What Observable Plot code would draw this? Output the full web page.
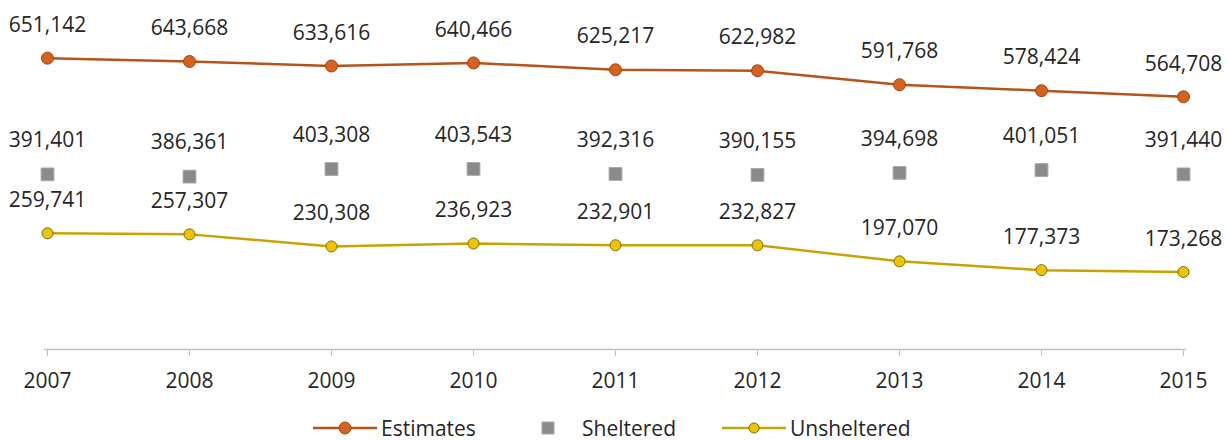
<!DOCTYPE html>
<html>
<head>
<meta charset="utf-8">
<script src="https://cdn.jsdelivr.net/npm/d3@7"></script>
<script src="https://cdn.jsdelivr.net/npm/@observablehq/plot@0.6"></script>
<style>
  html, body { margin: 0; padding: 0; background: #fff; }
  #wrap { position: relative; width: 1228px; height: 440px; font-family: "Open Sans", sans-serif; color: #262626; }
  #legend { position: absolute; top: 417px; left: 0; width: 1228px; height: 22px; font-size: 21px; line-height: 22px; }
  .item { position: absolute; top: 0; height: 22px; display: flex; align-items: center; white-space: nowrap; }
  .item svg { display: block; margin-right: 4px; }
</style>
</head>
<body>
<div id="wrap">
  <div id="chart"></div>
  <div id="legend"></div>
</div>
<script>
const years = ["2007","2008","2009","2010","2011","2012","2013","2014","2015"];
const estimates = [651142, 643668, 633616, 640466, 625217, 622982, 591768, 578424, 564708];
const sheltered = [391401, 386361, 403308, 403543, 392316, 390155, 394698, 401051, 391440];
const unsheltered = [259741, 257307, 230308, 236923, 232901, 232827, 197070, 177373, 173268];
const seriesNames = ["Estimates", "Sheltered", "Unsheltered"];

const colors = {
  estLine: "#b5531b", estFill: "#d4631f", estStroke: "#a0440f",
  shFill: "#8a8a8a", shStroke: "#a6a6a6",
  unLine: "#c9a200", unFill: "#ecc400", unStroke: "#7d6e0c"
};

const est = years.map((y, i) => ({year: y, value: estimates[i]}));
const sh = years.map((y, i) => ({year: y, value: sheltered[i]}));
const un = years.map((y, i) => ({year: y, value: unsheltered[i]}));
const fmt = d3.format(",");

const chart = Plot.plot({
  width: 1228,
  height: 405,
  marginLeft: 44,
  marginRight: 42,
  marginTop: 0,
  marginBottom: 56,
  style: {fontFamily: "'Open Sans', sans-serif", fontSize: "21px", color: "#262626", background: "white"},
  x: {type: "point", domain: years, padding: 0, label: null},
  y: {domain: [0, 780000], axis: null, label: null},
  marks: [
    Plot.ruleY([0], {stroke: "#bfbfbf", strokeWidth: 1.5}),
    Plot.axisX({tickSize: 7, tickPadding: 17, stroke: "#bfbfbf", fill: "#262626", fontSize: 21, label: null}),
    Plot.line(est, {x: "year", y: "value", stroke: colors.estLine, strokeWidth: 2.5}),
    Plot.dot(est, {x: "year", y: "value", r: 6, fill: colors.estFill, stroke: colors.estStroke, strokeWidth: 1}),
    Plot.text(est, {x: "year", y: "value", text: d => fmt(d.value), dy: -33, fill: "#262626"}),
    Plot.dot(sh, {x: "year", y: "value", symbol: "square", r: 7.2, fill: colors.shFill, stroke: colors.shStroke, strokeWidth: 1}),
    Plot.text(sh, {x: "year", y: "value", text: d => fmt(d.value), dy: -34, fill: "#262626"}),
    Plot.line(un, {x: "year", y: "value", stroke: colors.unLine, strokeWidth: 2.5}),
    Plot.dot(un, {x: "year", y: "value", r: 5.5, fill: colors.unFill, stroke: colors.unStroke, strokeWidth: 1}),
    Plot.text(un, {x: "year", y: "value", text: d => fmt(d.value), dy: -33, fill: "#262626"})
  ]
});
document.getElementById("chart").appendChild(chart);

// Legend (HTML, below the SVG)
const legend = d3.select("#legend");
const items = [
  {name: seriesNames[0], left: 313, kind: "line", line: colors.estLine, fill: colors.estFill, stroke: colors.estStroke, r: 6, w: 64},
  {name: seriesNames[1], left: 540, kind: "square", fill: colors.shFill, stroke: colors.shStroke, w: 38},
  {name: seriesNames[2], left: 722, kind: "line", line: colors.unLine, fill: colors.unFill, stroke: colors.unStroke, r: 5, w: 64}
];
items.forEach(it => {
  const div = legend.append("div").attr("class", "item").style("left", it.left + "px");
  const svg = div.append("svg").attr("width", it.w).attr("height", 20);
  if (it.kind === "line") {
    svg.append("line").attr("x1", 0).attr("x2", it.w).attr("y1", 10).attr("y2", 10)
      .attr("stroke", it.line).attr("stroke-width", 2.5);
    svg.append("circle").attr("cx", it.w / 2).attr("cy", 10).attr("r", it.r)
      .attr("fill", it.fill).attr("stroke", it.stroke);
  } else {
    svg.append("rect").attr("x", 2).attr("y", 4).attr("width", 12).attr("height", 12)
      .attr("fill", it.fill).attr("stroke", it.stroke);
  }
  div.append("span").text(it.name);
});
</script>
</body>
</html>
